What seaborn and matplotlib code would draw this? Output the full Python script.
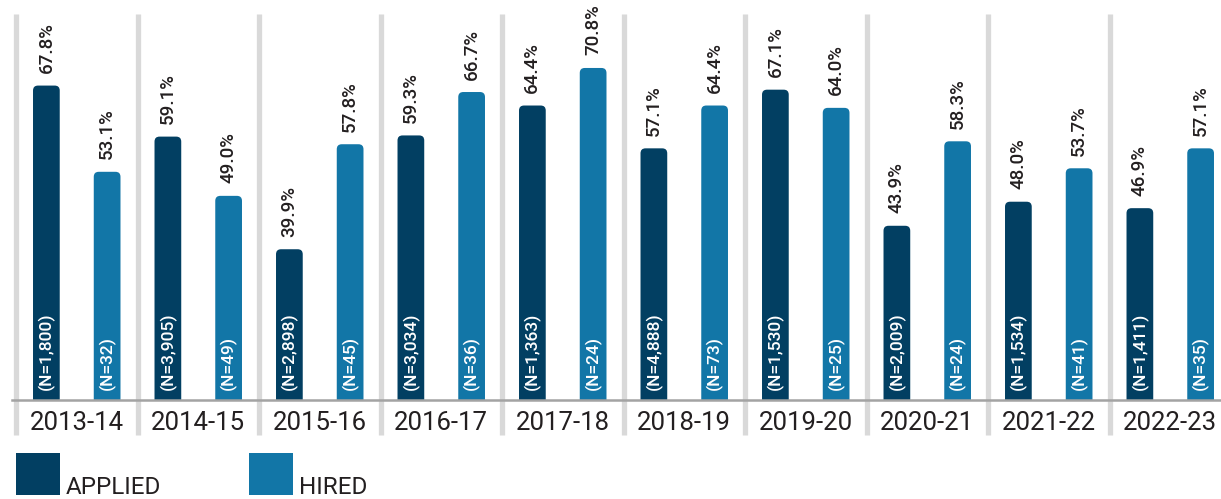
import matplotlib.pyplot as plt
import pandas as pd
import seaborn as sns
from matplotlib.patches import FancyBboxPatch, Rectangle

# Data
years = ['2013-14', '2014-15', '2015-16', '2016-17', '2017-18',
         '2018-19', '2019-20', '2020-21', '2021-22', '2022-23']
applied_pct = [67.8, 59.1, 39.9, 59.3, 64.4, 57.1, 67.1, 43.9, 48.0, 46.9]
hired_pct = [53.1, 49.0, 57.8, 66.7, 70.8, 64.4, 64.0, 58.3, 53.7, 57.1]
applied_n = [1800, 3905, 2898, 3034, 1363, 4888, 1530, 2009, 1534, 1411]
hired_n = [32, 49, 45, 36, 24, 73, 25, 24, 41, 35]

df = pd.DataFrame({
    'Year': years * 2,
    'Pct': applied_pct + hired_pct,
    'N': applied_n + hired_n,
    'Group': ['APPLIED'] * len(years) + ['HIRED'] * len(years),
})

colors = {'APPLIED': '#023f62', 'HIRED': '#1276a7'}
text_color = '#231f20'

sns.set_style("white")
plt.rcParams['font.family'] = ['Roboto', 'DejaVu Sans']

W, H = 1221, 499
fig = plt.figure(figsize=(W / 100, H / 100), dpi=100)
# axes spans pixel rows 14..400
ax = fig.add_axes([0, (H - 400) / H, 1, 386 / H])

sns.barplot(data=df, x='Year', y='Pct', hue='Group', palette=colors,
            width=1.0, gap=0.56, legend=False, saturation=1, ax=ax)

px_per_cat = 121.5
ax.set_xlim(-0.5 - 16 / px_per_cat, -0.5 + (W - 16) / px_per_cat)
ax.set_ylim(14.2, 80)

# rounded tops on bars
y_per_px = (80 - 14.2) / 386
x_per_px = 1 / px_per_cat
for cont, grp in zip(ax.containers, ['APPLIED', 'HIRED']):
    for bar in cont:
        x, w, h = bar.get_x(), bar.get_width(), bar.get_height()
        bar.set_visible(False)
        rb = FancyBboxPatch((x, 0), w, h,
                            boxstyle="round,pad=0,rounding_size=%f" % (5 * x_per_px),
                            mutation_aspect=y_per_px / x_per_px,
                            fc=colors[grp], ec='none', zorder=3)
        ax.add_patch(rb)

# value labels above and N labels inside
nvals = {'APPLIED': applied_n, 'HIRED': hired_n}
for cont, grp in zip(ax.containers, ['APPLIED', 'HIRED']):
    for i, bar in enumerate(cont):
        cx = bar.get_x() + bar.get_width() / 2
        h = bar.get_height()
        ax.annotate(f"{h:.1f}%", (cx, h), xytext=(0, 9), textcoords='offset points',
                    rotation=90, ha='center', va='bottom', fontsize=13.5,
                    fontweight='medium', color=text_color, zorder=5)
        ax.annotate(f"(N={nvals[grp][i]:,})", (cx, 14.2), xytext=(0, 7),
                    textcoords='offset points', rotation=90, ha='center',
                    va='bottom', fontsize=12.5, fontweight='medium',
                    color='white', zorder=5)

# gray separators between years
ax.vlines([i - 0.5 for i in range(len(years) + 1)], -0.09, 1,
          transform=ax.get_xaxis_transform(), colors='#d9d9d9', lw=3.8,
          zorder=0, clip_on=False)

for s in ['top', 'right', 'left']:
    ax.spines[s].set_visible(False)
ax.spines['bottom'].set_color('#a3a3a3')
ax.spines['bottom'].set_linewidth(1.8)
ax.spines['bottom'].set_bounds(-0.53, 10)
ax.spines['bottom'].set_zorder(4)

ax.set_yticks([])
ax.set_xlabel('')
ax.set_ylabel('')
ax.tick_params(axis='x', length=0, pad=8, labelsize=18.5, labelcolor=text_color)

# legend drawn in figure pixel coords
for x0, label in [(16, 'APPLIED'), (249, 'HIRED')]:
    fig.add_artist(Rectangle((x0 / W, (H - 495) / H), 44 / W, 42 / H,
                             transform=fig.transFigure, fc=colors[label], ec='none'))
    fig.text((x0 + 50) / W, (H - 494) / H, label, fontsize=17.5,
             color=text_color, ha='left', va='baseline')

fig.savefig('out.png', dpi=100)
